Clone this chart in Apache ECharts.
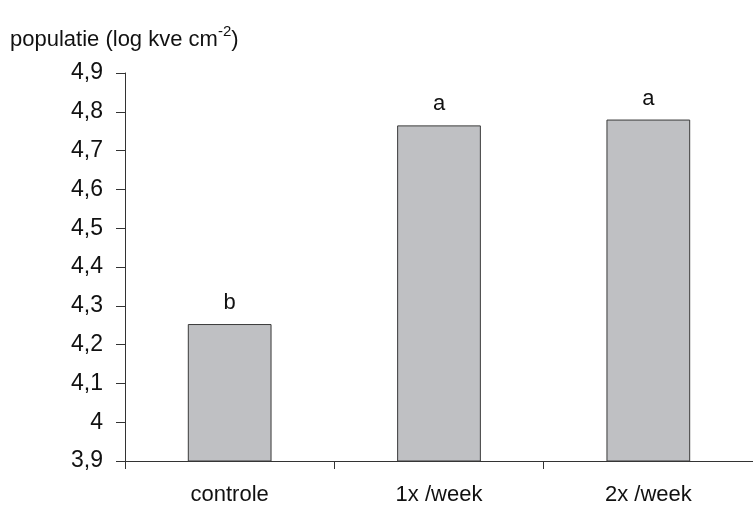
<!DOCTYPE html>
<html>
<head>
<meta charset="utf-8">
<script src="https://cdn.jsdelivr.net/npm/echarts@6/dist/echarts.min.js"></script>
<style>html,body{margin:0;padding:0;background:#fff}#c{width:753px;height:507px}</style>
</head>
<body>
<div id="c"></div>
<script>
const categories = ['controle', '1x /week', '2x /week'];
const values = [4.253, 4.765, 4.78];
const letters = ['b', 'a', 'a'];
const yTicks = {min: 3.9, max: 4.9, interval: 0.1};

const FONT = 'Liberation Sans';
const chart = echarts.init(document.getElementById('c'), null, {renderer: 'canvas'});
chart.setOption({
  animation: false,
  backgroundColor: '#fff',
  title: {
    text: '{a|populatie (log kve cm}{s|-2}{a|)}',
    left: 5, top: 19,
    textStyle: {
      rich: {
        a: {fontFamily: FONT, fontSize: 22, fontWeight: 'normal', color: '#111', verticalAlign: 'bottom', lineHeight: 27},
        s: {fontFamily: FONT, fontSize: 15, fontWeight: 'normal', color: '#111', verticalAlign: 'top', lineHeight: 27, padding: [0, 0, 12, 0]}
      }
    }
  },
  grid: {left: 125, right: -2, top: 73, bottom: 46, containLabel: false},
  xAxis: {
    type: 'category',
    data: categories,
    axisLine: {lineStyle: {color: '#333', width: 1}},
    axisTick: {show: true, length: 8, alignWithLabel: false, lineStyle: {color: '#333'}},
    axisLabel: {fontFamily: FONT, fontSize: 22, color: '#111', margin: 23},
    splitLine: {show: false}
  },
  yAxis: {
    type: 'value',
    min: yTicks.min, max: yTicks.max, interval: yTicks.interval,
    axisLine: {show: true, lineStyle: {color: '#333', width: 1}},
    axisTick: {show: true, length: 9, lineStyle: {color: '#333'}},
    axisLabel: {
      fontFamily: FONT, fontSize: 23, color: '#111', margin: 22,
      formatter: v => {
        const r = Math.round(v * 10) / 10;
        return (Number.isInteger(r) ? String(r) : r.toFixed(1)).replace('.', ',');
      }
    },
    splitLine: {show: false}
  },
  series: [{
    type: 'bar',
    data: values,
    barWidth: '40%',
    itemStyle: {color: '#BFC0C3', borderColor: '#3a3a3a', borderWidth: 1},
    label: {
      show: true, position: 'top', distance: 10,
      fontFamily: FONT, fontSize: 22, color: '#111',
      formatter: p => letters[p.dataIndex]
    }
  }]
});
</script>
</body>
</html>
